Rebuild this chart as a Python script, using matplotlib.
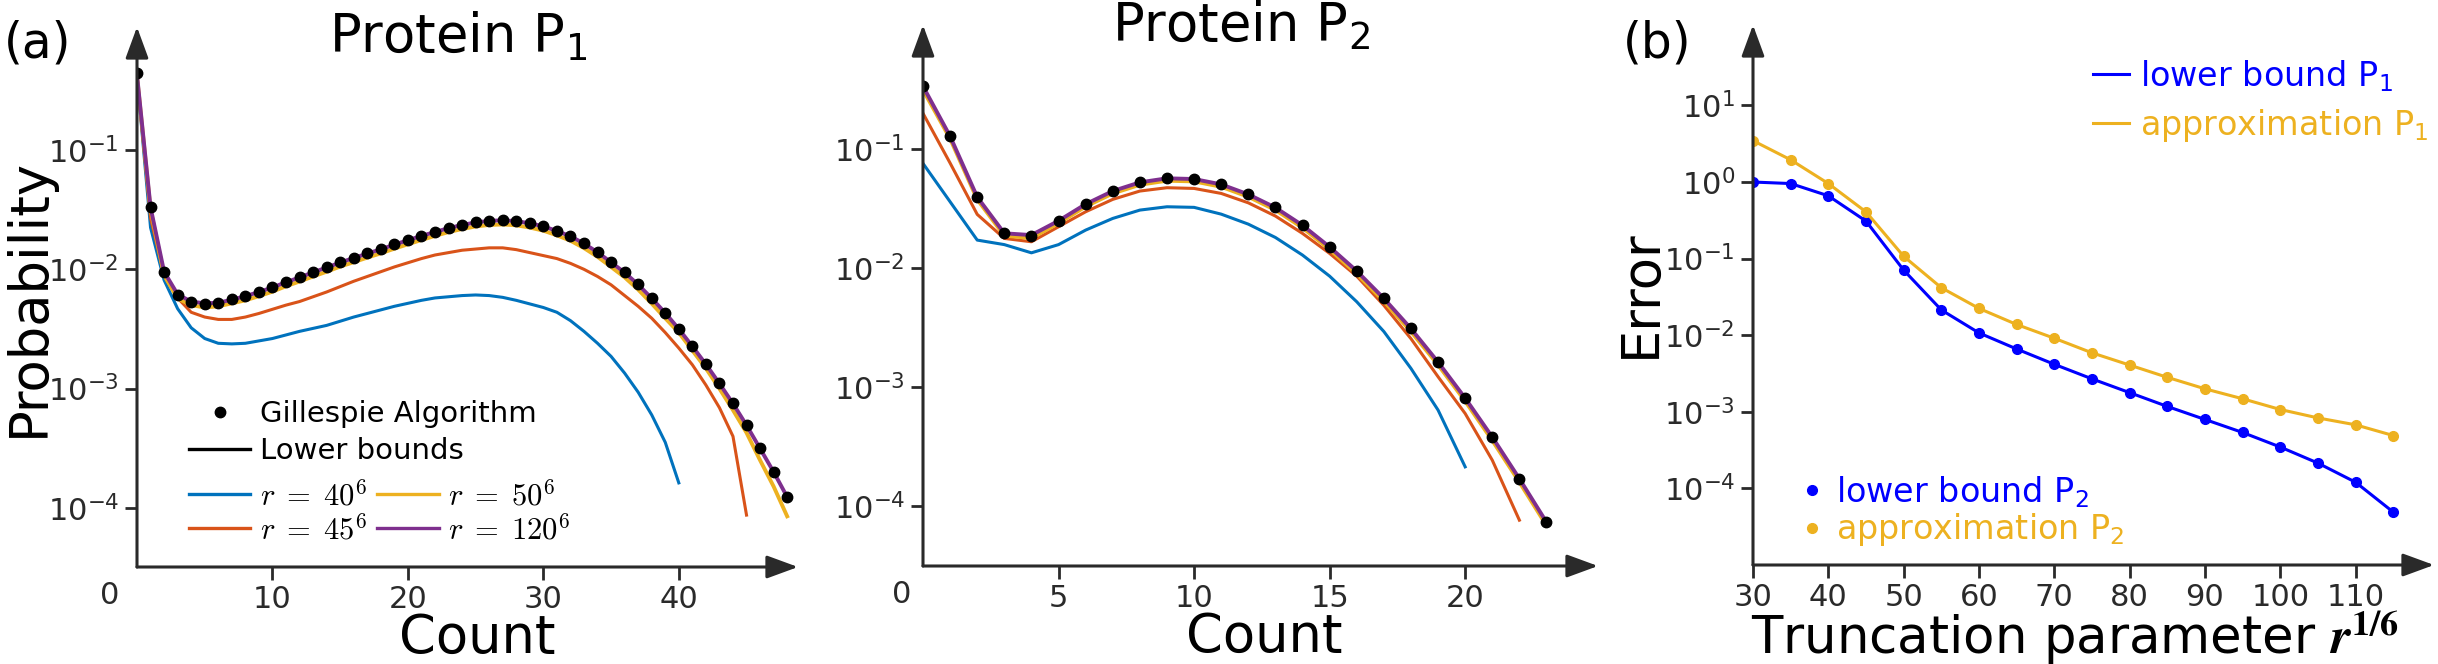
import numpy as np
import matplotlib
matplotlib.use('Agg')
import matplotlib.pyplot as plt
from matplotlib.lines import Line2D
from matplotlib.font_manager import FontProperties

# ---- data (log10 of probability / error) ----
p1_count = np.arange(0, 49)
p1_gillespie = [-0.352, -1.48, -2.02, -2.215, -2.27, -2.29, -2.28, -2.25, -2.225, -2.188,
                -2.151, -2.106, -2.067, -2.023, -1.983, -1.941, -1.903, -1.866, -1.830, -1.791,
                -1.754, -1.718, -1.685, -1.651, -1.626, -1.605, -1.591, -1.587, -1.594, -1.612,
                -1.637, -1.676, -1.721, -1.782, -1.855, -1.939, -2.025, -2.126, -2.241, -2.364,
                -2.498, -2.643, -2.794, -2.955, -3.123, -3.305, -3.500, -3.696, -3.906]
p1_r40 = [-0.38, -1.65, -2.09, -2.33, -2.49, -2.58, -2.62, -2.625, -2.62, -2.60,
          -2.58, -2.55, -2.52, -2.495, -2.47, -2.435, -2.40, -2.37, -2.34, -2.31,
          -2.285, -2.26, -2.24, -2.23, -2.22, -2.215, -2.22, -2.235, -2.26, -2.29,
          -2.32, -2.36, -2.43, -2.52, -2.62, -2.73, -2.87, -3.03, -3.22, -3.45, -3.79]
p1_r45 = [-0.37, -1.57, -2.05, -2.24, -2.36, -2.40, -2.42, -2.42, -2.40, -2.37,
          -2.335, -2.30, -2.27, -2.23, -2.19, -2.145, -2.10, -2.06, -2.02, -1.98,
          -1.945, -1.91, -1.88, -1.86, -1.84, -1.83, -1.82, -1.82, -1.835, -1.86,
          -1.885, -1.91, -1.95, -2.00, -2.06, -2.13, -2.22, -2.31, -2.41, -2.53,
          -2.66, -2.80, -2.97, -3.16, -3.40, -4.06]
p1_r50 = [-0.38, -1.50, -2.05, -2.245, -2.30, -2.32, -2.31, -2.285, -2.26, -2.225,
          -2.187, -2.142, -2.102, -2.06, -2.02, -1.977, -1.94, -1.902, -1.866, -1.827,
          -1.79, -1.754, -1.72, -1.688, -1.662, -1.641, -1.628, -1.624, -1.631, -1.65,
          -1.676, -1.715, -1.76, -1.822, -1.895, -1.98, -2.067, -2.17, -2.287, -2.41,
          -2.53, -2.68, -2.83, -3.00, -3.18, -3.37, -3.60, -3.82, -4.07]
p1_r120 = [-0.37, -1.48, -2.02, -2.21, -2.27, -2.285, -2.28, -2.255, -2.225, -2.19,
           -2.152, -2.108, -2.068, -2.025, -1.985, -1.943, -1.905, -1.868, -1.832, -1.793,
           -1.756, -1.720, -1.687, -1.655, -1.628, -1.607, -1.594, -1.589, -1.596, -1.614,
           -1.640, -1.678, -1.723, -1.784, -1.857, -1.941, -2.027, -2.128, -2.243, -2.366,
           -2.500, -2.645, -2.796, -2.957, -3.125, -3.307, -3.502, -3.698, -3.908]

p2_count = np.arange(0, 24)
p2_gillespie = [-0.466, -0.888, -1.398, -1.706, -1.726, -1.60, -1.46, -1.35, -1.275, -1.241,
                -1.247, -1.292, -1.376, -1.487, -1.636, -1.818, -2.02, -2.25, -2.504, -2.785,
                -3.088, -3.415, -3.765, -4.130]
p2_r40 = [-1.118, -1.44, -1.762, -1.80, -1.869, -1.80, -1.678, -1.58, -1.51, -1.482,
          -1.487, -1.544, -1.628, -1.74, -1.888, -2.065, -2.28, -2.53, -2.84, -3.19, -3.667]
p2_r45 = [-0.697, -1.115, -1.546, -1.748, -1.776, -1.650, -1.524, -1.42, -1.35, -1.322,
          -1.328, -1.37, -1.449, -1.56, -1.706, -1.874, -2.065, -2.31, -2.59, -2.91,
          -3.219, -3.611, -4.115]
p2_r50 = [-0.50, -0.91, -1.42, -1.725, -1.745, -1.62, -1.48, -1.37, -1.297, -1.263,
          -1.269, -1.314, -1.398, -1.509, -1.658, -1.84, -2.045, -2.275, -2.53, -2.81,
          -3.115, -3.445, -3.795, -4.16]
p2_r120 = [-0.47, -0.89, -1.40, -1.705, -1.72, -1.60, -1.46, -1.35, -1.277, -1.243,
           -1.249, -1.294, -1.378, -1.489, -1.638, -1.82, -2.022, -2.252, -2.506, -2.787,
           -3.09, -3.417, -3.767, -4.132]

trunc = np.arange(30, 116, 5)
err_lower = [0.0, -0.02, -0.18, -0.51, -1.15, -1.67, -1.97, -2.18, -2.38, -2.57,
             -2.75, -2.93, -3.10, -3.27, -3.46, -3.67, -3.92, -4.31]
err_approx = [0.54, 0.29, -0.02, -0.39, -0.97, -1.38, -1.65, -1.86, -2.04, -2.23,
              -2.39, -2.55, -2.70, -2.83, -2.97, -3.08, -3.17, -3.31]

c40, c45, c50, c120 = '#0072BD', '#D95319', '#EDB120', '#7E2F8E'
cblue, cyel = '#0000FF', '#EDB120'
axc = '#2a2a2a'

W, H = 2438, 664
fig = plt.figure(figsize=(W / 100, H / 100), dpi=100)


def px(x, y):
    return (x / W, 1 - y / H)


def box(l, r, t, b):
    return [l / W, 1 - b / H, (r - l) / W, (b - t) / H]


def style(ax):
    for s in ax.spines.values():
        s.set_visible(False)
    kw = dict(arrowstyle='-|>,head_length=0.6,head_width=0.22', color=axc, lw=2.2,
              shrinkA=0, shrinkB=0, mutation_scale=32)
    ax.annotate('', xy=(1, 0), xytext=(0, 0), xycoords='axes fraction', arrowprops=kw,
                annotation_clip=False)
    ax.annotate('', xy=(0, 1), xytext=(0, 0), xycoords='axes fraction', arrowprops=kw,
                annotation_clip=False)
    ax.set_yscale('log')
    ax.yaxis.set_minor_locator(matplotlib.ticker.NullLocator())
    ax.tick_params(axis='both', which='major', direction='out', length=9, width=2,
                   color=axc, labelcolor='#2a2a2a', labelsize=22, pad=4)


def pow10(v):
    return 10.0 ** np.asarray(v)


# ---- panel (a) P1 ----
ax1 = fig.add_axes(box(137, 798, 27, 567))
style(ax1)
ax1.plot(np.arange(len(p1_r40)), pow10(p1_r40), color=c40, lw=2.2)
ax1.plot(np.arange(len(p1_r45)), pow10(p1_r45), color=c45, lw=2.2)
ax1.plot(np.arange(len(p1_r50)), pow10(p1_r50), color=c50, lw=2.8)
ax1.plot(np.arange(len(p1_r120)), pow10(p1_r120), color=c120, lw=2.8)
ax1.plot(p1_count, pow10(p1_gillespie), 'o', color='k', ms=7.5)
ax1.set_xlim(0, 48.8)
ax1.set_ylim(10 ** -4.495, 10 ** 0.031)
ax1.set_xticks([10, 20, 30, 40])
ax1.set_yticks([1e-4, 1e-3, 1e-2, 1e-1])
ax1.annotate('0', xy=(0, 0), xycoords='axes fraction', xytext=(-20, -10),
             textcoords='offset points', ha='center', va='top', fontsize=22, color='#2a2a2a')

leg_a = ax1.legend([Line2D([], [], marker='o', ls='none', color='k', ms=7.5),
                    Line2D([], [], color='k', lw=2.4)],
                   ['Gillespie Algorithm', 'Lower bounds'],
                   loc='upper left', bbox_to_anchor=px(189, 400), bbox_transform=fig.transFigure,
                   frameon=False, fontsize=21, handlelength=2.1, handletextpad=0.34,
                   borderpad=0, borderaxespad=0, labelspacing=0.3)
ax1.add_artist(leg_a)
ax1.legend([Line2D([], [], color=c40, lw=2.4), Line2D([], [], color=c45, lw=2.4),
            Line2D([], [], color=c50, lw=2.4), Line2D([], [], color=c120, lw=2.4)],
           [r'$r\;=\;40^6$', r'$r\;=\;45^6$', r'$r\;=\;50^6$', r'$r\;=\;120^6$'],
           ncol=2, loc='upper left', bbox_to_anchor=px(189, 480), bbox_transform=fig.transFigure,
           frameon=False, prop=FontProperties(size=22, math_fontfamily='cm'),
           handlelength=2.0, handletextpad=0.32, columnspacing=0.35,
           borderpad=0, borderaxespad=0, labelspacing=0.1)

# ---- panel (a) P2 ----
ax2 = fig.add_axes(box(923, 1598, 25, 566))
style(ax2)
ax2.plot(np.arange(len(p2_r40)), pow10(p2_r40), color=c40, lw=2.2)
ax2.plot(np.arange(len(p2_r45)), pow10(p2_r45), color=c45, lw=2.2)
ax2.plot(np.arange(len(p2_r50)), pow10(p2_r50), color=c50, lw=2.8)
ax2.plot(np.arange(len(p2_r120)), pow10(p2_r120), color=c120, lw=2.8)
ax2.plot(p2_count, pow10(p2_gillespie), 'o', color='k', ms=7.5)
ax2.set_xlim(0, 24.9)
ax2.set_ylim(10 ** -4.50, 10 ** 0.045)
ax2.set_xticks([5, 10, 15, 20])
ax2.set_yticks([1e-4, 1e-3, 1e-2, 1e-1])
ax2.annotate('0', xy=(0, 0), xycoords='axes fraction', xytext=(-15, -10),
             textcoords='offset points', ha='center', va='top', fontsize=22, color='#2a2a2a')

# ---- panel (b) ----
ax3 = fig.add_axes(box(1753, 2434, 25, 565))
style(ax3)
ax3.plot(trunc, pow10(err_lower), 'o-', color=cblue, lw=2.2, ms=7)
ax3.plot(trunc, pow10(err_approx), 'o-', color=cyel, lw=2.2, ms=7)
ax3.set_xlim(30, 120.4)
ax3.set_ylim(1e-5, 10 ** 2.05)
ax3.set_xticks(np.arange(30, 111, 10))
ax3.set_yticks([1e-4, 1e-3, 1e-2, 1e-1, 1e0, 1e1])

leg_b = ax3.legend([Line2D([], [], color=cblue, lw=2.2), Line2D([], [], color=cyel, lw=2.2)],
                   ['lower bound P$_1$', 'approximation P$_1$'],
                   loc='upper left', bbox_to_anchor=px(2093, 58), bbox_transform=fig.transFigure,
                   frameon=False, fontsize=24, handlelength=1.08, handletextpad=0.33,
                   borderpad=0, borderaxespad=0, labelspacing=0.4, labelcolor=[cblue, cyel])
ax3.add_artist(leg_b)
ax3.legend([Line2D([], [], marker='o', ls='none', color=cblue, ms=7),
            Line2D([], [], marker='o', ls='none', color=cyel, ms=7)],
           ['lower bound P$_2$', 'approximation P$_2$'],
           loc='upper left', bbox_to_anchor=px(1795, 474), bbox_transform=fig.transFigure,
           frameon=False, fontsize=24, handlelength=1.0, handletextpad=0.24,
           borderpad=0, borderaxespad=0, labelspacing=0.05, labelcolor=[cblue, cyel])

# ---- titles and labels ----
fig.text(*px(458, 52), 'Protein P$_1$', fontsize=38, ha='center', va='baseline')
fig.text(*px(1241, 41), 'Protein P$_2$', fontsize=38, ha='center', va='baseline')
fig.text(*px(4, 58), '(a)', fontsize=35, ha='left', va='baseline')
fig.text(*px(1623, 58), '(b)', fontsize=35, ha='left', va='baseline')
fig.text(*px(29, 297), 'Probability', fontsize=38, rotation=90, ha='center', va='center')
fig.text(*px(1641, 294), 'Error', fontsize=38, rotation=90, ha='center', va='center')
fig.text(*px(477, 653), 'Count', fontsize=38, ha='center', va='baseline')
fig.text(*px(1264, 652), 'Count', fontsize=38, ha='center', va='baseline')
fig.text(*px(1751, 654), r'Truncation parameter $\mathbfit{r}^{\mathbf{1/6}}$', fontsize=37,
         ha='left', va='baseline', math_fontfamily='stix')

fig.savefig('out.png', dpi=100)
